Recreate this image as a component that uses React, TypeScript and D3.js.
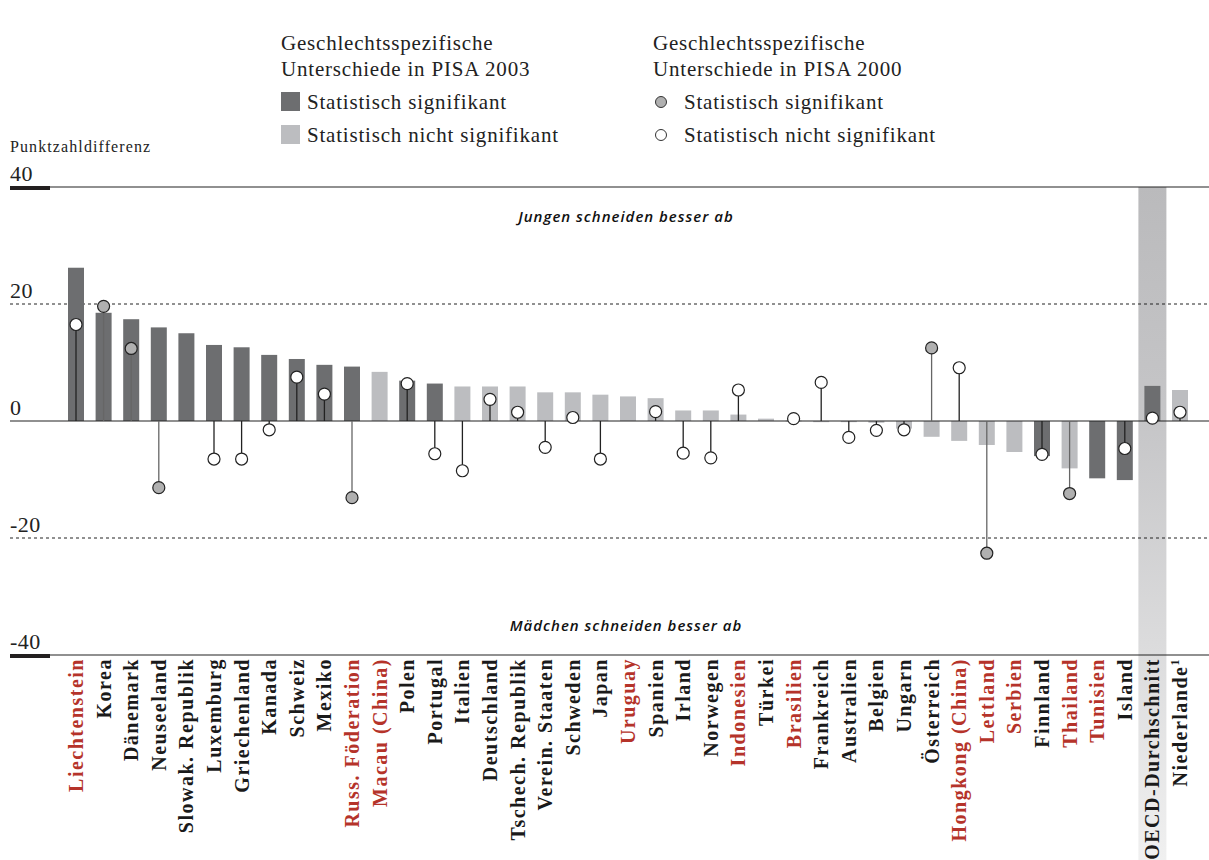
import React from "react";
import * as d3 from "d3";

const countries = [
  "Liechtenstein", "Korea", "Dänemark", "Neuseeland", "Slowak. Republik", "Luxemburg", "Griechenland",
  "Kanada", "Schweiz", "Mexiko", "Russ. Föderation", "Macau (China)", "Polen", "Portugal", "Italien",
  "Deutschland", "Tschech. Republik", "Verein. Staaten", "Schweden", "Japan", "Uruguay", "Spanien",
  "Irland", "Norwegen", "Indonesien", "Türkei", "Brasilien", "Frankreich", "Australien", "Belgien",
  "Ungarn", "Österreich", "Hongkong (China)", "Lettland", "Serbien", "Finnland", "Thailand", "Tunisien",
  "Island", "OECD-Durchschnitt", "Niederlande",
];
const partner = [
  true, false, false, false, false, false, false, false, false, false, true, true, false, false, false,
  false, false, false, false, false, true, false, false, false, true, false, true, false, false, false,
  false, false, true, true, true, false, true, true, false, false, false,
];
// PISA 2003 difference
const diff2003 = [
  26.2, 18.5, 17.4, 16.0, 15.0, 13.0, 12.6, 11.3, 10.6, 9.6, 9.3, 8.4, 6.9, 6.4, 5.9,
  5.9, 5.9, 4.9, 4.9, 4.5, 4.2, 3.9, 1.8, 1.8, 1.1, 0.4, 0.1, -0.2, -0.2, -0.3,
  -1.3, -2.7, -3.4, -4.1, -5.3, -6.0, -8.1, -9.8, -10.1, 6.0, 5.3,
];
const sig2003 = [
  true, true, true, true, true, true, true, true, true, true, true, false, true, true, false,
  false, false, false, false, false, false, false, false, false, false, false, false, false, false, false,
  false, false, false, false, false, true, false, true, true, true, false,
];
// PISA 2000 difference (null = no data)
const diff2000: (number | null)[] = [
  16.5, 19.6, 12.4, -11.4, null, -6.5, -6.5, -1.5, 7.5, 4.6, -13.1, null, 6.4, -5.6, -8.5,
  3.7, 1.5, -4.5, 0.6, -6.5, null, 1.6, -5.5, -6.3, 5.3, null, 0.4, 6.6, -2.8, -1.6,
  -1.5, 12.5, 9.1, -22.6, null, -5.7, -12.4, null, -4.7, 0.5, 1.5,
];
const sig2000 = [
  false, true, true, true, false, false, false, false, false, false, true, false, false, false, false,
  false, false, false, false, false, false, false, false, false, false, false, false, false, false, false,
  false, true, false, true, false, false, true, false, false, false, false,
];
const yTicks = [40, 20, 0, -20, -40];

const DARK = "#6d6e70";
const LIGHT = "#bcbdc0";
const RED = "#b5332a";
const SERIF = "'Liberation Serif', 'DejaVu Serif', serif";
const SANS = "'Open Sans', 'DejaVu Sans', sans-serif";

export default function App() {
  const W = 1209, H = 860;
  const x = d3.scalePoint<string>().domain(countries).range([76, 1180]);
  const y = d3.scaleLinear().domain([-40, 40]).range([655, 187]);
  const bw = 16;
  const oecdX = x("OECD-Durchschnitt")!;

  return (
    <svg width={W} height={H} style={{ position: "absolute", left: 0, top: 0 }}>
      <defs>
        <linearGradient id="oecdGrad" x1="0" y1="0" x2="0" y2="1">
          <stop offset="0%" stopColor="#bababc" />
          <stop offset="35%" stopColor="#c6c6c8" />
          <stop offset="100%" stopColor="#f0f0f0" />
        </linearGradient>
      </defs>
      <rect width={W} height={H} fill="#fff" />

      {/* Legend */}
      <g fontFamily={SERIF} fontSize={21} fill="#222" letterSpacing={0.8}>
        <text x={281} y={50}>Geschlechtsspezifische</text>
        <text x={281} y={76}>Unterschiede in PISA 2003</text>
        <rect x={281} y={92} width={19} height={19} fill={DARK} />
        <text x={307} y={109}>Statistisch signifikant</text>
        <rect x={281} y={125} width={19} height={19} fill={LIGHT} />
        <text x={307} y={142}>Statistisch nicht signifikant</text>
        <text x={653} y={50}>Geschlechtsspezifische</text>
        <text x={653} y={76}>Unterschiede in PISA 2000</text>
        <circle cx={661} cy={102} r={5.5} fill="#b0b0b0" stroke="#333" strokeWidth={1} />
        <text x={684} y={109}>Statistisch signifikant</text>
        <circle cx={661} cy={135} r={5.5} fill="#fff" stroke="#333" strokeWidth={1} />
        <text x={684} y={142}>Statistisch nicht signifikant</text>
      </g>

      <text x={10} y={152} fontFamily={SERIF} fontSize={16} letterSpacing={1.1} fill="#222">Punktzahldifferenz</text>

      {/* OECD highlight band */}
      <rect x={oecdX - 14} y={y(40)} width={28} height={H - y(40)} fill="url(#oecdGrad)" />

      {/* Y ticks and grid */}
      {yTicks.map((t) => (
        <g key={t}>
          <text x={10} y={y(t) - 6} fontFamily={SERIF} fontSize={22} letterSpacing={0.5} fill="#222">{t}</text>
          {Math.abs(t) === 20 ? (
            <line x1={10} x2={W} y1={y(t)} y2={y(t)} stroke="#222" strokeWidth={1} strokeDasharray="3,3" />
          ) : null}
        </g>
      ))}

      {/* bars */}
      {countries.map((c, i) => {
        const v = diff2003[i];
        return (
          <rect key={c} x={x(c)! - bw / 2} y={Math.min(y(v), y(0))} width={bw}
            height={Math.max(Math.abs(y(v) - y(0)), 1)} fill={sig2003[i] ? DARK : LIGHT} />
        );
      })}

      {/* solid axis lines */}
      {[40, 0, -40].map((t) => (
        <line key={t} x1={10} x2={W} y1={y(t)} y2={y(t)} stroke="#222" strokeWidth={1.2} />
      ))}
      <rect x={10} y={y(40) - 1} width={40} height={4} fill="#231f20" />
      <rect x={10} y={y(-40) - 1} width={40} height={4} fill="#231f20" />

      {/* stems and circles */}
      {countries.map((c, i) => {
        const v = diff2000[i];
        if (v === null) return null;
        return (
          <g key={c}>
            <line x1={x(c)!} x2={x(c)!} y1={y(0)} y2={y(v)} stroke={sig2000[i] ? "#666" : "#222"} strokeWidth={1.3} />
            <circle cx={x(c)!} cy={y(v)} r={6} fill={sig2000[i] ? "#b0b0b0" : "#fff"} stroke="#222" strokeWidth={1.2} />
          </g>
        );
      })}

      {/* annotations */}
      <text x={626} y={222} textAnchor="middle" fontFamily={SANS} fontStyle="italic" fontWeight={600} fontSize={15} letterSpacing={1} fill="#111">Jungen schneiden besser ab</text>
      <text x={626} y={631} textAnchor="middle" fontFamily={SANS} fontStyle="italic" fontWeight={600} fontSize={15} letterSpacing={1} fill="#111">Mädchen schneiden besser ab</text>

      {/* category labels */}
      {countries.map((c, i) => (
        <text key={c} transform={`translate(${x(c)! + 7},${y(-40) + 3}) rotate(-90)`} textAnchor="end"
          fontFamily={SERIF} fontWeight="bold" fontSize={20} letterSpacing={1.5} fill={partner[i] ? RED : "#1a1a1a"}>
          {c}
          {c === "Niederlande" ? <tspan fontSize={12} dy={-8}>1</tspan> : null}
        </text>
      ))}
    </svg>
  );
}
